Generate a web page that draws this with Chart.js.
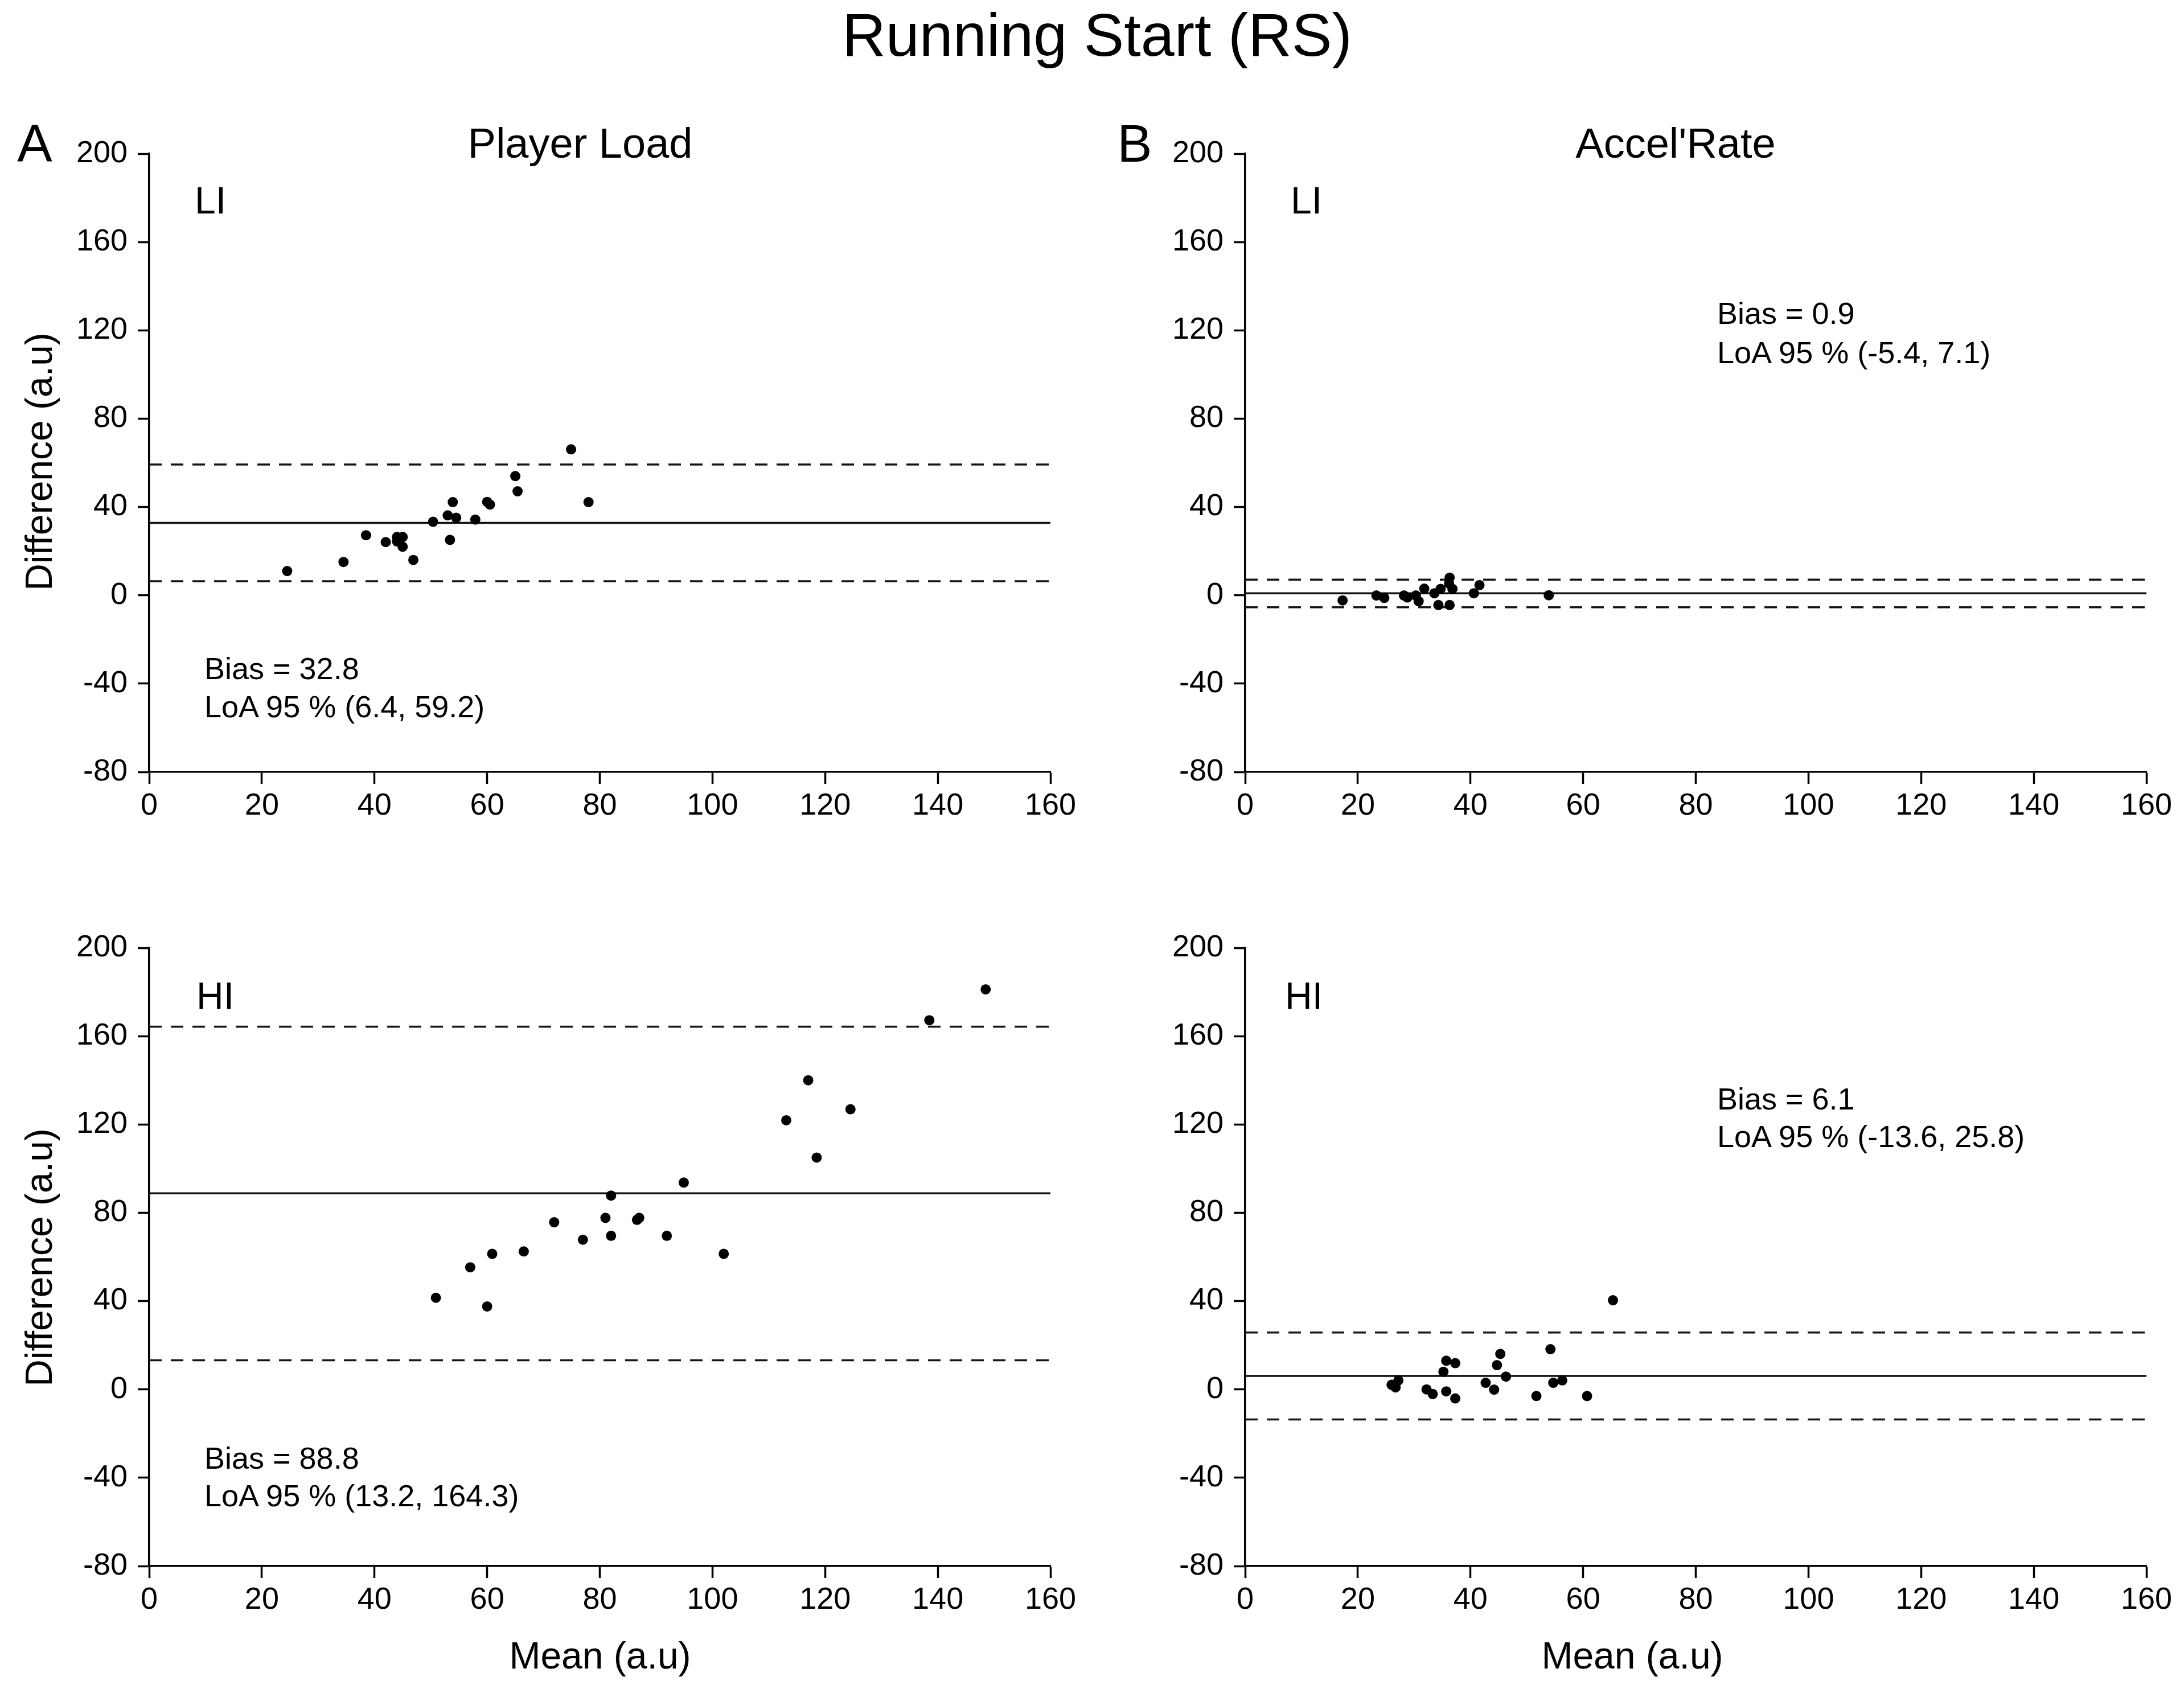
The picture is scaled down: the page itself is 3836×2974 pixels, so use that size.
<!DOCTYPE html>
<html><head><meta charset="utf-8">
<script src="https://cdn.jsdelivr.net/npm/chart.js@4/dist/chart.umd.min.js"></script>
<style>
html,body{margin:0;padding:0;background:#fff;}
body{width:3836px;height:2974px;position:relative;overflow:hidden;font-family:"Liberation Sans",Arial,sans-serif;color:#000;}
canvas{position:absolute;}
.t{position:absolute;line-height:1;white-space:nowrap;transform:translate(-50%,-50%);}
.l{position:absolute;line-height:1;white-space:nowrap;transform:translate(0,-50%);}
.r{position:absolute;line-height:1;white-space:nowrap;transform:translate(-50%,-50%) rotate(-90deg);}
</style></head><body>

<div class="t" style="left:1927px;top:61px;font-size:106px;">Running Start (RS)</div>
<div class="t" style="left:61px;top:252px;font-size:92px;">A</div>
<div class="t" style="left:1993px;top:252px;font-size:92px;">B</div>
<div class="t" style="left:1019px;top:252px;font-size:74px;">Player Load</div>
<div class="t" style="left:2943px;top:252px;font-size:74px;">Accel'Rate</div>
<div class="l" style="left:342px;top:352px;font-size:66px;">LI</div>
<div class="l" style="left:2267px;top:352px;font-size:66px;">LI</div>
<div class="l" style="left:345px;top:1749px;font-size:66px;">HI</div>
<div class="l" style="left:2257px;top:1749px;font-size:66px;">HI</div>
<div class="r" style="left:68px;top:811px;font-size:66px;">Difference (a.u)</div>
<div class="r" style="left:68px;top:2209px;font-size:66px;">Difference (a.u)</div>
<div class="t" style="left:1054px;top:2908px;font-size:66px;">Mean (a.u)</div>
<div class="t" style="left:2867px;top:2908px;font-size:66px;">Mean (a.u)</div>

<div class="l" style="left:359px;top:1174px;font-size:54px;">Bias = 32.8</div>
<div class="l" style="left:359px;top:1241px;font-size:54px;">LoA 95 % (6.4, 59.2)</div>
<div class="l" style="left:3016px;top:550px;font-size:54px;">Bias = 0.9</div>
<div class="l" style="left:3016px;top:619px;font-size:54px;">LoA 95 % (-5.4, 7.1)</div>
<div class="l" style="left:359px;top:2561px;font-size:54px;">Bias = 88.8</div>
<div class="l" style="left:359px;top:2627px;font-size:54px;">LoA 95 % (13.2, 164.3)</div>
<div class="l" style="left:3016px;top:1930px;font-size:54px;">Bias = 6.1</div>
<div class="l" style="left:3016px;top:1996px;font-size:54px;">LoA 95 % (-13.6, 25.8)</div>

<canvas id="cA1" width="1905" height="1306" style="left:0px;top:170px;width:1905px;height:1306px;"></canvas>
<canvas id="cB1" width="1905" height="1306" style="left:1925px;top:170px;width:1905px;height:1306px;"></canvas>
<canvas id="cA2" width="1905" height="1306" style="left:0px;top:1565px;width:1905px;height:1306px;"></canvas>
<canvas id="cB2" width="1905" height="1306" style="left:1925px;top:1565px;width:1905px;height:1306px;"></canvas>

<script>
// Axis ranges and ticks
const X_MIN = 0, X_MAX = 160, X_STEP = 20;
const Y_MIN = -80, Y_MAX = 200, Y_STEP = 40;

// Panel A, LI (Player Load)
const plLiMean = [24.5, 34.5, 38.5, 42.0, 44.0, 45.0, 44.0, 45.0, 46.9, 50.4, 53.0, 54.5, 53.9, 53.4, 57.9, 60.0, 60.5, 65.0, 65.4, 74.9, 78.0];
const plLiDiff = [11.0, 15.1, 27.2, 24.1, 26.4, 26.4, 24.4, 22.0, 16.0, 33.3, 36.2, 35.1, 42.2, 25.1, 34.3, 42.3, 41.1, 54.0, 47.1, 66.1, 42.2];
const plLiStats = [32.8, 6.4, 59.2]; // bias, lower LoA, upper LoA

// Panel B, LI (Accel'Rate)
const arLiMean = [17.3, 23.3, 24.7, 28.2, 28.8, 30.3, 30.8, 31.8, 33.6, 34.3, 34.7, 36.3, 36.2, 36.8, 36.3, 40.6, 41.6, 53.9];
const arLiDiff = [-2.3, -0.1, -1.2, -0.1, -1.0, -0.1, -2.7, 3.0, 0.9, -4.4, 2.9, 8.0, 5.4, 2.9, -4.4, 0.9, 4.6, 0.0];
const arLiStats = [0.9, -5.4, 7.1];

// Panel A, HI (Player Load)
const plHiMean = [50.9, 60.0, 57.0, 60.9, 66.5, 71.9, 77.0, 81.0, 82.0, 82.0, 86.6, 87.0, 91.9, 94.9, 102.0, 113.1, 117.0, 118.5, 124.5, 138.5, 148.5];
const plHiDiff = [41.5, 37.6, 55.3, 61.4, 62.5, 75.7, 67.8, 77.7, 69.6, 87.8, 76.8, 77.7, 69.6, 93.7, 61.4, 121.9, 140.0, 105.0, 126.9, 167.2, 181.2];
const plHiStats = [88.8, 13.2, 164.3];

// Panel B, HI (Accel'Rate)
const arHiMean = [26.0, 26.7, 27.2, 32.2, 33.3, 35.2, 35.7, 37.3, 35.7, 37.3, 42.7, 44.2, 44.7, 45.3, 46.3, 51.7, 54.2, 54.7, 56.3, 60.7, 65.3];
const arHiDiff = [2.1, 0.9, 4.1, 0.0, -2.1, 8.0, 13.0, 11.9, -0.9, -4.1, 3.0, -0.1, 11.0, 16.1, 5.8, -3.0, 18.2, 3.0, 4.1, -3.0, 40.4];
const arHiStats = [6.1, -13.6, 25.8];

const FONT = {family: '"Liberation Sans", Arial, sans-serif', size: 54};

function makeChart(id, means, diffs, stats) {
  const pts = means.map((m, i) => ({x: m, y: diffs[i]}));
  const hline = v => [{x: X_MIN, y: v}, {x: X_MAX, y: v}];
  new Chart(document.getElementById(id), {
    type: 'scatter',
    data: {datasets: [
      {type: 'scatter', data: pts, pointRadius: 9, pointHoverRadius: 9, backgroundColor: '#000', borderWidth: 0},
      {type: 'line', data: hline(stats[0]), borderColor: '#111', borderWidth: 3.5, pointRadius: 0, fill: false},
      {type: 'line', data: hline(stats[1]), borderColor: '#151515', borderWidth: 3.5, borderDash: [22, 16], pointRadius: 0, fill: false},
      {type: 'line', data: hline(stats[2]), borderColor: '#151515', borderWidth: 3.5, borderDash: [22, 16], pointRadius: 0, fill: false}
    ]},
    options: {
      responsive: false, animation: false, devicePixelRatio: 1,
      layout: {padding: {top: 100, right: 60, left: 0, bottom: 0}},
      plugins: {legend: {display: false}, tooltip: {enabled: false}, title: {display: false}},
      scales: {
        x: {
          type: 'linear', min: X_MIN, max: X_MAX,
          ticks: {stepSize: X_STEP, font: FONT, color: '#000', padding: 7, maxRotation: 0, autoSkip: false},
          grid: {drawOnChartArea: false, drawTicks: true, tickLength: 21, tickWidth: 3.5, color: '#000'},
          border: {display: true, color: '#000', width: 3.5},
          afterFit: s => { s.height = 120; }
        },
        y: {
          type: 'linear', min: Y_MIN, max: Y_MAX,
          ticks: {stepSize: Y_STEP, font: FONT, color: '#000', padding: 18, autoSkip: false},
          grid: {drawOnChartArea: false, drawTicks: true, tickLength: 20, tickWidth: 3.5, color: '#000'},
          border: {display: true, color: '#000', width: 3.5},
          afterFit: s => { s.width = 262; }
        }
      }
    }
  });
}

makeChart('cA1', plLiMean, plLiDiff, plLiStats);
makeChart('cB1', arLiMean, arLiDiff, arLiStats);
makeChart('cA2', plHiMean, plHiDiff, plHiStats);
makeChart('cB2', arHiMean, arHiDiff, arHiStats);
</script>
</body></html>
